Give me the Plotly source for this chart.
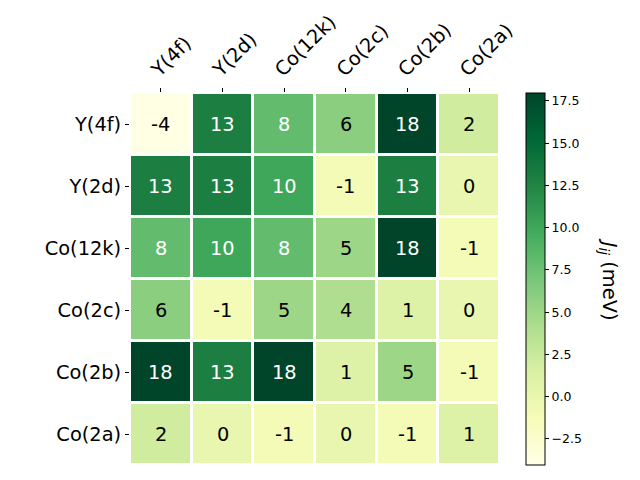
import plotly.graph_objects as go

labels = ["Y(4f)", "Y(2d)", "Co(12k)", "Co(2c)", "Co(2b)", "Co(2a)"]
values = [
    [-4, 13, 8, 6, 18, 2],
    [13, 13, 10, -1, 13, 0],
    [8, 10, 8, 5, 18, -1],
    [6, -1, 5, 4, 1, 0],
    [18, 13, 18, 1, 5, -1],
    [2, 0, -1, 0, -1, 1],
]
cb_ticks = [-2.5, 0.0, 2.5, 5.0, 7.5, 10.0, 12.5, 15.0, 17.5]
zmin, zmax = -4.04, 17.97

font = "DejaVu Sans, Liberation Sans, sans-serif"

fig = go.Figure(go.Heatmap(
    z=values, x=labels, y=labels,
    colorscale="YlGn", zmin=zmin, zmax=zmax,
    xgap=3, ygap=3,
    colorbar=dict(
        x=1.0703, xanchor="left", xpad=0, y=0.5, yanchor="middle", ypad=0,
        len=1.0, lenmode="fraction",
        thickness=19, thicknessmode="pixels",
        outlinecolor="black", outlinewidth=1,
        tickvals=cb_ticks, ticktext=[f"{t:.1f}".replace("-", "\u2212") for t in cb_ticks],
        ticks="outside", ticklen=4, tickcolor="black",
        tickfont=dict(family=font, size=12.5, color="black"),
    ),
    hoverinfo="skip",
))

annotations = []
for i, row in enumerate(values):
    for j, v in enumerate(row):
        annotations.append(dict(
            x=labels[j], y=labels[i], text=str(v), showarrow=False,
            font=dict(family=font, size=19.4, color="white" if v >= 7 else "black"),
        ))
annotations.append(dict(
    xref="paper", yref="paper", x=1.295, y=0.5, xanchor="center", yanchor="middle",
    text="<i>J</i><sub><i>ij</i></sub> (meV)", textangle=90, showarrow=False,
    font=dict(family=font, size=19.4, color="black"),
))

fig.update_layout(
    width=640, height=480,
    margin=dict(l=130, r=140, t=93, b=15),
    paper_bgcolor="white", plot_bgcolor="white",
    annotations=annotations,
    font=dict(family=font, color="black"),
    xaxis=dict(side="top", tickangle=-45, ticks="outside", ticklen=4, tickcolor="black",
               ticklabelshift=-8,
               tickfont=dict(family=font, size=19.4, color="black"),
               showgrid=False, zeroline=False),
    yaxis=dict(autorange="reversed", ticks="outside", ticklen=4, tickcolor="black",
               tickfont=dict(family=font, size=19.4, color="black"),
               showgrid=False, zeroline=False),
)

fig.write_html("out.html")
